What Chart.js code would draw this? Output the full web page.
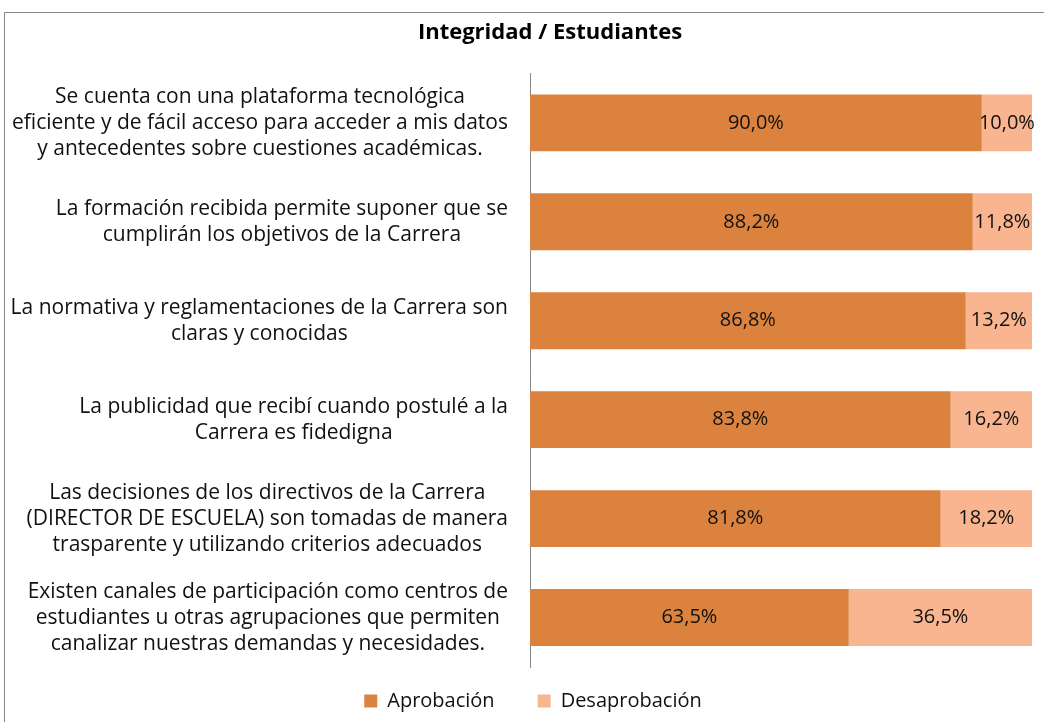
<!DOCTYPE html>
<html>
<head>
<meta charset="utf-8">
<script src="https://cdn.jsdelivr.net/npm/chart.js@4/dist/chart.umd.min.js"></script>
<style>
  html, body { margin: 0; padding: 0; background: #fff; }
  #wrap { width: 1044px; height: 722px; }
</style>
</head>
<body>
<div id="wrap"><canvas id="chart"></canvas></div>
<script>
const categories = [
  ["Se cuenta con una plataforma tecnológica", "eficiente y de fácil acceso para acceder a mis datos", "y antecedentes sobre cuestiones académicas."],
  ["La formación recibida permite suponer que se", "cumplirán los objetivos de la Carrera"],
  ["La normativa y reglamentaciones de la Carrera son", "claras y conocidas"],
  ["La publicidad que recibí cuando postulé a la", "Carrera es fidedigna"],
  ["Las decisiones de los directivos de la Carrera", "(DIRECTOR DE ESCUELA) son tomadas de manera", "trasparente y utilizando criterios adecuados"],
  ["Existen canales de participación como centros de", "estudiantes u otras agrupaciones que permiten", "canalizar nuestras demandas y necesidades."]
];
const aprobacion = [90.0, 88.2, 86.8, 83.8, 81.8, 63.5];
const desaprobacion = [10.0, 11.8, 13.2, 16.2, 18.2, 36.5];

const FONT = "'Open Sans', sans-serif";
const TICK_FONT = "21px " + FONT;
const TICK_LINE = 26;

const frame = {
  id: "frame",
  beforeDraw(chart) {
    const ctx = chart.ctx;
    ctx.save();
    ctx.fillStyle = "#fff";
    ctx.fillRect(0, 0, chart.width, chart.height);
    ctx.strokeStyle = "#868686";
    ctx.lineWidth = 1;
    ctx.strokeRect(4.5, 12.5, chart.width + 10, chart.height + 10);
    ctx.restore();
  }
};

// nudge title and legend to where the original has them
const nudge = {
  id: "nudge",
  afterLayout(chart) {
    const t = chart.titleBlock;
    if (t) { t.left += 34; t.right += 34; }
    const lg = chart.legend;
    if (lg) {
      lg.left += 17; lg.right += 17;
      lg.top -= 19;
      lg.bottom = chart.height + 30;
    }
  }
};

// category labels: block right-aligned to the axis, lines centred inside the block
const catLabels = {
  id: "catLabels",
  afterDraw(chart) {
    const ctx = chart.ctx;
    const y = chart.scales.y;
    const right = y.right - 22;
    ctx.save();
    ctx.font = TICK_FONT;
    ctx.fillStyle = "#111";
    ctx.textAlign = "center";
    ctx.textBaseline = "middle";
    chart.data.labels.forEach((lines, i) => {
      const w = Math.max(...lines.map(l => ctx.measureText(l).width));
      const cx = right - w / 2;
      const cy = y.getPixelForValue(i);
      lines.forEach((l, k) => {
        ctx.fillText(l, cx, cy + (k - (lines.length - 1) / 2) * TICK_LINE);
      });
    });
    ctx.restore();
  }
};

const barLabels = {
  id: "barLabels",
  afterDatasetsDraw(chart) {
    const ctx = chart.ctx;
    ctx.save();
    ctx.font = "20px " + FONT;
    ctx.fillStyle = "#111";
    ctx.textAlign = "center";
    ctx.textBaseline = "middle";
    chart.data.datasets.forEach((ds, i) => {
      chart.getDatasetMeta(i).data.forEach((bar, j) => {
        const p = bar.getProps(["x", "y", "base"], true);
        const cx = (p.x + p.base) / 2;
        ctx.fillText(ds.data[j].toFixed(1).replace(".", ",") + "%", cx, p.y);
      });
    });
    ctx.restore();
  }
};

new Chart(document.getElementById("chart"), {
  type: "bar",
  data: {
    labels: categories,
    datasets: [
      { label: "Aprobación", data: aprobacion, backgroundColor: "#DB823E" },
      { label: "Desaprobación", data: desaprobacion, backgroundColor: "#F8B590" }
    ]
  },
  options: {
    indexAxis: "y",
    responsive: true,
    maintainAspectRatio: false,
    animation: false,
    layout: { padding: { left: 0, right: 12, top: 0, bottom: -18 } },
    datasets: { bar: { categoryPercentage: 1, barPercentage: 0.575 } },
    scales: {
      x: {
        stacked: true,
        min: 0,
        max: 100,
        display: false
      },
      y: {
        stacked: true,
        grid: { display: false, drawTicks: false },
        border: { display: true, color: "#868686", width: 1 },
        ticks: { display: false },
        afterFit(scale) { scale.width = 530; }
      }
    },
    plugins: {
      title: {
        display: true,
        text: "Integridad / Estudiantes",
        color: "#000",
        font: { family: FONT, size: 22, weight: "bold" },
        padding: { top: 20, bottom: 27 }
      },
      legend: {
        position: "bottom",
        labels: {
          color: "#111",
          font: { family: FONT, size: 20 },
          boxWidth: 13,
          boxHeight: 13,
          padding: 43
        }
      },
      tooltip: { enabled: false }
    }
  },
  plugins: [frame, nudge, catLabels, barLabels]
});
</script>
</body>
</html>
